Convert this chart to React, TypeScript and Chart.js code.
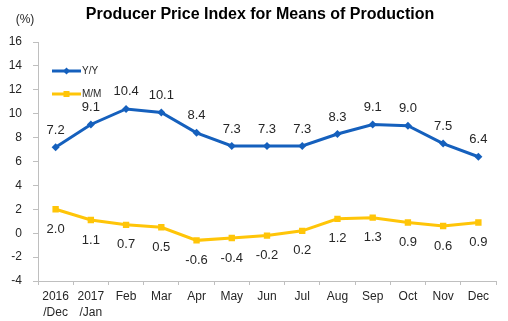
import React, { useEffect, useRef } from "react";
import { Chart, registerables } from "chart.js";

Chart.register(...registerables);

const categories: string[][] = [
  ["2016", "/Dec"], ["2017", "/Jan"], ["Feb"], ["Mar"], ["Apr"], ["May"], ["Jun"],
  ["Jul"], ["Aug"], ["Sep"], ["Oct"], ["Nov"], ["Dec"],
];
const yoyValues = [7.2, 9.1, 10.4, 10.1, 8.4, 7.3, 7.3, 7.3, 8.3, 9.1, 9.0, 7.5, 6.4];
const momValues = [2.0, 1.1, 0.7, 0.5, -0.6, -0.4, -0.2, 0.2, 1.2, 1.3, 0.9, 0.6, 0.9];
const seriesNames = ["Y/Y", "M/M"];
const titleText = "Producer Price Index for Means of Production";
const unitText = "(%)";

const BLUE = "#1560BD";
const YELLOW = "#FFC508";
const FONT = "'Liberation Sans', Arial, sans-serif";

const overlayPlugin = {
  id: "overlay",
  afterDatasetsDraw(chart: any) {
    const ctx = chart.ctx;
    ctx.save();
    ctx.font = `13px ${FONT}`;
    ctx.fillStyle = "#262626";
    ctx.textAlign = "center";
    ctx.textBaseline = "middle";
    chart.data.datasets.forEach((ds: any, di: number) => {
      const meta = chart.getDatasetMeta(di);
      meta.data.forEach((pt: any, i: number) => {
        const v = ds.data[i] as number;
        const y = di === 0 ? pt.y - 17 : pt.y + 20;
        ctx.fillText(v.toFixed(1), pt.x, y);
      });
    });
    ctx.font = `bold 16px ${FONT}`;
    ctx.fillStyle = "#000";
    ctx.fillText(titleText, 260, 15);
    ctx.font = `12px ${FONT}`;
    ctx.fillStyle = "#262626";
    ctx.fillText(unitText, 25, 20);
    const items = [
      { name: seriesNames[0], color: BLUE, y: 71, style: "rectRot" },
      { name: seriesNames[1], color: YELLOW, y: 94, style: "rect" },
    ];
    items.forEach((it) => {
      ctx.strokeStyle = it.color;
      ctx.lineWidth = 3;
      ctx.beginPath();
      ctx.moveTo(52, it.y);
      ctx.lineTo(81, it.y);
      ctx.stroke();
      ctx.fillStyle = it.color;
      if (it.style === "rect") ctx.fillRect(63.5, it.y - 3, 6, 6);
      else {
        ctx.beginPath();
        ctx.moveTo(66.5, it.y - 3.5);
        ctx.lineTo(70, it.y);
        ctx.lineTo(66.5, it.y + 3.5);
        ctx.lineTo(63, it.y);
        ctx.closePath();
        ctx.fill();
      }
      ctx.fillStyle = "#262626";
      ctx.font = `10px ${FONT}`;
      ctx.textAlign = "left";
      ctx.fillText(it.name, 82, it.y);
    });
    ctx.restore();
  },
};

export default function App() {
  const ref = useRef<HTMLCanvasElement>(null);
  useEffect(() => {
    const chart = new Chart(ref.current!, {
      type: "line",
      data: {
        labels: categories,
        datasets: [
          {
            label: seriesNames[0],
            data: yoyValues,
            borderColor: BLUE,
            backgroundColor: BLUE,
            borderWidth: 3,
            pointStyle: "rectRot",
            pointRadius: 4,
            pointBorderWidth: 0,
            tension: 0,
          },
          {
            label: seriesNames[1],
            data: momValues,
            borderColor: YELLOW,
            backgroundColor: YELLOW,
            borderWidth: 3,
            pointStyle: "rect",
            pointRadius: 4.5,
            pointBorderWidth: 0,
            tension: 0,
          },
        ],
      },
      options: {
        animation: false,
        responsive: false,
        maintainAspectRatio: false,
        layout: { padding: { top: 42, right: 12, left: 0, bottom: 0 } },
        plugins: { legend: { display: false }, title: { display: false }, tooltip: { enabled: false } },
        scales: {
          x: {
            offset: true,
            grid: { offset: true, drawOnChartArea: false, drawTicks: true, tickLength: 4, color: "#BFBFBF" },
            border: { color: "#BFBFBF", width: 1 },
            ticks: { color: "#262626", font: { size: 12, family: FONT, lineHeight: 1.3 }, padding: 4, maxRotation: 0, autoSkip: false },
            afterFit: (s: any) => { s.height = 40; },
          },
          y: {
            min: -4,
            max: 16,
            grid: { drawOnChartArea: false, drawTicks: true, tickLength: 5, color: "#BFBFBF" },
            border: { color: "#BFBFBF", width: 1 },
            ticks: { stepSize: 2, color: "#262626", font: { size: 12, family: FONT }, padding: 11 },
            afterFit: (s: any) => { s.width = 38; },
          },
        },
      },
      plugins: [overlayPlugin],
    });
    return () => chart.destroy();
  }, []);
  return (
    <div style={{ position: "fixed", left: 0, top: 0, width: 508, height: 321, background: "#fff" }}>
      <canvas ref={ref} width={508} height={321} style={{ width: 508, height: 321 }} />
    </div>
  );
}
